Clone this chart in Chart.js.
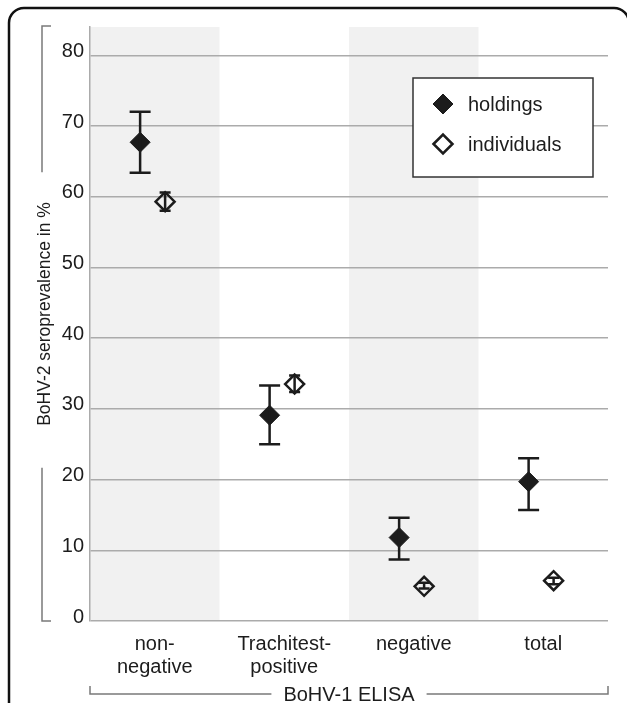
<!DOCTYPE html>
<html>
<head>
<meta charset="utf-8">
<script src="https://cdn.jsdelivr.net/npm/chart.js@4.4.0/dist/chart.umd.min.js"></script>
<style>
  html, body { margin: 0; padding: 0; background: #fff; }
  canvas { display: block; }
</style>
</head>
<body>
<canvas id="chart" width="627" height="703"></canvas>
<script>
/* global Chart */
// Datos
const categories = [['non-', 'negative'], ['Trachitest-', 'positive'], 'negative', 'total'];
const yTicks = [0, 10, 20, 30, 40, 50, 60, 70, 80];

const holdings = [67.7, 29.1, 11.8, 19.7];
const holdingsLow = [63.4, 25.0, 8.7, 15.7];
const holdingsHigh = [72.0, 33.3, 14.6, 23.0];

const individuals = [59.3, 33.5, 4.9, 5.7];
const individualsLow = [58.0, 32.4, 4.6, 5.2];
const individualsHigh = [60.6, 34.7, 5.4, 6.1];

const yTitle = 'BoHV-2 seroprevalence in %';
const xTitle = 'BoHV-1 ELISA';

const ink = '#1c1c1c';
const gridGrey = '#ababab';
const bracketGrey = '#7a7a7a';
const family = '"Liberation Sans", Arial, sans-serif';

// desplazamiento de cada serie dentro de su categoría
const holdingsShift = -0.113;
const individualsShift = 0.08;

Chart.defaults.font.family = family;

function errorBars(ctx, xs, ys, low, high, shift, cap) {
	low.forEach((lo, i) => {
		const px = xs.getPixelForValue(i + shift);
		const top = ys.getPixelForValue(high[i]);
		const bottom = ys.getPixelForValue(lo);
		ctx.beginPath();
		ctx.moveTo(px, top);
		ctx.lineTo(px, bottom);
		ctx.moveTo(px - cap / 2, top);
		ctx.lineTo(px + cap / 2, top);
		ctx.moveTo(px - cap / 2, bottom);
		ctx.lineTo(px + cap / 2, bottom);
		ctx.stroke();
	});
}

const decor = {
	id: 'decor',
	beforeDraw(chart) {
		const { ctx, chartArea: area, scales } = chart;
		ctx.save();
		ctx.fillStyle = '#fff';
		ctx.fillRect(0, 0, chart.width, chart.height);

		// marco redondeado
		ctx.strokeStyle = '#111';
		ctx.lineWidth = 2.5;
		ctx.beginPath();
		ctx.roundRect(9, 8, 620, 760, 15);
		ctx.stroke();

		// bandas grises
		ctx.fillStyle = '#f1f1f1';
		categories.forEach((c, i) => {
			if (i % 2 !== 0) return;
			const x0 = scales.x.getPixelForValue(i - 0.5);
			const x1 = scales.x.getPixelForValue(i + 0.5);
			ctx.fillRect(x0, area.top, x1 - x0, area.bottom - area.top);
		});
		ctx.restore();
	},
	afterDatasetsDraw(chart) {
		const { ctx, scales } = chart;
		ctx.save();
		ctx.strokeStyle = ink;
		ctx.lineWidth = 2.5;
		errorBars(ctx, scales.x, scales.y, holdingsLow, holdingsHigh, holdingsShift, 21);
		errorBars(ctx, scales.x, scales.y, individualsLow, individualsHigh, individualsShift, 11);
		ctx.restore();
	},
	afterDraw(chart) {
		const { ctx, chartArea: area } = chart;
		ctx.save();

		// leyenda
		const boxRight = area.right - 15;
		const boxTop = area.top + 51;
		const boxW = 180;
		const boxH = 99;
		ctx.fillStyle = '#fff';
		ctx.fillRect(boxRight - boxW, boxTop, boxW, boxH);
		ctx.strokeStyle = '#333';
		ctx.lineWidth = 1.5;
		ctx.strokeRect(boxRight - boxW, boxTop, boxW, boxH);
		ctx.font = '20px ' + family;
		ctx.textBaseline = 'middle';
		ctx.textAlign = 'left';
		chart.data.datasets.forEach((ds, i) => {
			const cy = boxTop + 26 + i * 40;
			const cx = boxRight - boxW + 30;
			ctx.fillStyle = ds.pointBackgroundColor;
			ctx.strokeStyle = ds.pointBorderColor;
			ctx.lineWidth = ds.pointBorderWidth;
			Chart.helpers.drawPoint(ctx, {
				pointStyle: ds.pointStyle,
				radius: ds.pointRadius,
				rotation: 0,
				borderWidth: ds.pointBorderWidth
			}, cx, cy);
			ctx.fillStyle = ink;
			ctx.fillText(ds.label, cx + 25, cy + 1);
		});

		ctx.strokeStyle = bracketGrey;
		ctx.lineWidth = 1.5;
		ctx.fillStyle = ink;

		// título del eje y con corchete
		const bx = 42;
		const midY = (area.top + area.bottom) / 2 - 4;
		ctx.font = '17.5px ' + family;
		const yHalf = ctx.measureText(yTitle).width / 2 + 36;
		ctx.beginPath();
		ctx.moveTo(bx + 9, area.top - 1);
		ctx.lineTo(bx, area.top - 1);
		ctx.lineTo(bx, midY - yHalf);
		ctx.moveTo(bx, midY + yHalf);
		ctx.lineTo(bx, area.bottom);
		ctx.lineTo(bx + 9, area.bottom);
		ctx.stroke();
		ctx.save();
		ctx.translate(45, midY - 6);
		ctx.rotate(-Math.PI / 2);
		ctx.textAlign = 'center';
		ctx.textBaseline = 'middle';
		ctx.fillText(yTitle, 0, 0);
		ctx.restore();

		// título del eje x con corchete
		const by = 694;
		const midX = (area.left + area.right) / 2;
		ctx.font = '20px ' + family;
		const xHalf = ctx.measureText(xTitle).width / 2 + 12;
		ctx.beginPath();
		ctx.moveTo(area.left, by - 8);
		ctx.lineTo(area.left, by);
		ctx.lineTo(midX - xHalf, by);
		ctx.moveTo(midX + xHalf, by);
		ctx.lineTo(area.right, by);
		ctx.lineTo(area.right, by - 8);
		ctx.stroke();
		ctx.textAlign = 'center';
		ctx.textBaseline = 'middle';
		ctx.fillText(xTitle, midX, by + 1);

		ctx.restore();
	}
};

const canvas = document.getElementById('chart');

const graph = new Chart(canvas, {
	type: 'scatter',
	data: {
		datasets: [
			{
				label: 'holdings',
				data: holdings.map((v, i) => ({ x: i + holdingsShift, y: v })),
				pointStyle: 'rectRot',
				pointRadius: 10,
				pointBackgroundColor: ink,
				pointBorderColor: ink,
				pointBorderWidth: 1
			},
			{
				label: 'individuals',
				data: individuals.map((v, i) => ({ x: i + individualsShift, y: v })),
				pointStyle: 'rectRot',
				pointRadius: 9.5,
				pointBackgroundColor: 'rgba(0,0,0,0)',
				pointBorderColor: ink,
				pointBorderWidth: 2.5
			}
		]
	},
	options: {
		responsive: false,
		animation: false,
		devicePixelRatio: 1,
		events: [],
		layout: { padding: { top: 27, right: 19, left: 0, bottom: 0 } },
		plugins: {
			legend: { display: false },
			tooltip: { enabled: false }
		},
		scales: {
			x: {
				type: 'linear',
				min: -0.5,
				max: 3.5,
				grid: { display: false },
				border: { display: false },
				afterBuildTicks: (s) => { s.ticks = categories.map((c, i) => ({ value: i })); },
				afterFit: (s) => { s.height = 82; },
				ticks: {
					callback: (v) => categories[v],
					color: ink,
					font: { size: 20, lineHeight: 1.15 },
					padding: 4,
					maxRotation: 0,
					autoSkip: false
				}
			},
			y: {
				min: 0,
				max: 84,
				afterBuildTicks: (s) => { s.ticks = yTicks.map((v) => ({ value: v })); },
				afterFit: (s) => { s.width = 90; },
				grid: { color: gridGrey, lineWidth: 1.5, drawTicks: false },
				border: { color: gridGrey, width: 1.5 },
				ticks: { color: ink, font: { size: 20 }, padding: 6, labelOffset: -4 }
			}
		}
	},
	plugins: [decor]
});
</script>
</body>
</html>
